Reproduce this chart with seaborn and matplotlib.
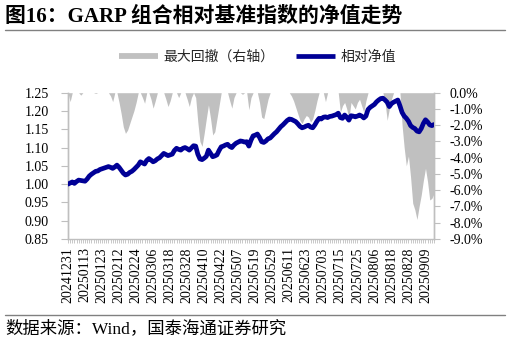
import numpy as np
import pandas as pd
import matplotlib
matplotlib.use("Agg")
import matplotlib.pyplot as plt
import seaborn as sns
from matplotlib.lines import Line2D
from matplotlib.ticker import FuncFormatter

# ---------------- data ----------------
start_date = "2024-12-31"
end_date = "2025-09-15"
holidays = ["2025-01-01", "2025-01-28", "2025-01-29", "2025-01-30", "2025-01-31",
            "2025-02-03", "2025-02-04", "2025-04-04", "2025-05-01", "2025-05-02",
            "2025-05-05", "2025-06-02"]

nav = [
    1.000, 1.003, 1.006, 1.002, 1.007, 1.011, 1.010, 1.009, 1.008, 1.014,
    1.022, 1.027, 1.031, 1.035, 1.036, 1.040, 1.042, 1.044, 1.046, 1.048,
    1.046, 1.043, 1.047, 1.052, 1.046, 1.038, 1.030, 1.025, 1.027, 1.032,
    1.035, 1.040, 1.046, 1.052, 1.061, 1.058, 1.055, 1.065, 1.070, 1.066,
    1.061, 1.064, 1.069, 1.072, 1.078, 1.084, 1.081, 1.078, 1.080, 1.082,
    1.092, 1.098, 1.095, 1.093, 1.098, 1.100, 1.097, 1.093, 1.099, 1.105,
    1.104, 1.082, 1.069, 1.067, 1.071, 1.076, 1.093, 1.084, 1.075, 1.077,
    1.080, 1.092, 1.102, 1.104, 1.107, 1.109, 1.103, 1.100, 1.107, 1.112,
    1.115, 1.118, 1.117, 1.115, 1.116, 1.104, 1.120, 1.132, 1.134, 1.137,
    1.128, 1.116, 1.114, 1.118, 1.124, 1.126, 1.132, 1.138, 1.143, 1.150,
    1.157, 1.162, 1.168, 1.174, 1.178, 1.177, 1.174, 1.171, 1.165, 1.158,
    1.154, 1.156, 1.159, 1.161, 1.156, 1.154, 1.162, 1.172, 1.180, 1.178,
    1.183, 1.184, 1.182, 1.185, 1.186, 1.188, 1.190, 1.194, 1.182, 1.180,
    1.189, 1.183, 1.175, 1.187, 1.186, 1.184, 1.186, 1.189, 1.186, 1.181,
    1.186, 1.204, 1.210, 1.214, 1.218, 1.225, 1.230, 1.234, 1.235, 1.230,
    1.224, 1.212, 1.220, 1.224, 1.227, 1.230, 1.214, 1.196, 1.186, 1.180,
    1.172, 1.160, 1.155, 1.152, 1.145, 1.143, 1.152, 1.166, 1.176, 1.170,
    1.162, 1.160, 1.163,
]

drawdown_pct = [
    0, -0.55, 0, 0, 0, 0, -0.15, 0, 0, 0,
    0, 0, 0, -0.05, 0, 0, 0, 0, 0, 0,
    -0.2, -0.55, 0, 0, -0.6, -1.3, -2.1, -2.5, -2.3, -1.9,
    -1.5, -1.1, -0.6, 0, 0, -0.3, -0.65, 0, 0, -0.4,
    -0.95, -0.5, 0, 0, 0, 0, -0.4, -0.85, -0.5, 0,
    0, 0, -0.3, 0, 0, 0, -0.4, -0.85, -0.3, 0,
    -0.3, -1.8, -3.0, -3.3, -2.5, -1.6, -0.75, -1.6, -2.6, -2.4,
    -1.6, -0.8, 0, 0, 0, 0, -0.5, -0.95, -0.3, 0,
    0, 0, -0.1, 0, 0, -1.05, -0.3, 0, 0, 0,
    -0.6, -1.5, -1.6, -1.0, -0.4, 0, 0, 0, 0, 0,
    0, 0, 0, 0, 0, -0.2, -0.5, -0.9, -1.3, -1.7,
    -1.9, -1.6, -1.4, -1.5, -1.8, -1.6, -1.1, -0.5, 0, 0,
    0, -0.55, 0, 0, 0, 0, 0, 0, -1.2, -0.8,
    -0.6, -1.0, -1.6, -0.6, -0.8, -1.0, -0.6, -0.4, -0.8, -1.2,
    -0.5, 0, 0, 0, 0, 0, 0, 0, 0, -0.6,
    -1.7, -1.0, -0.4, 0, 0, 0, 0, -2.0, -3.4, -4.5,
    -3.9, -5.2, -6.8, -7.2, -7.8, -7.0, -6.3, -5.4, -4.65, -5.5,
    -6.6, -6.5, -6.2,
]

title = "图16：GARP 组合相对基准指数的净值走势"
source = "数据来源：Wind，国泰海通证券研究"
label_dd = "最大回撤（右轴）"
label_nav = "相对净值"

left_ticks = [0.85, 0.90, 0.95, 1.00, 1.05, 1.10, 1.15, 1.20, 1.25]
right_ticks = [-9, -8, -7, -6, -5, -4, -3, -2, -1, 0]
label_step = 8

# ---------------- build frame ----------------
hol = set(pd.to_datetime(holidays))
dates = [d for d in pd.bdate_range(start_date, end_date) if d not in hol]
n = min(len(dates), len(nav), len(drawdown_pct))
df = pd.DataFrame({
    "idx": np.arange(n),
    "date": [d.strftime("%Y%m%d") for d in dates[:n]],
    "nav": nav[:n],
    "dd": drawdown_pct[:n],
})

# ---------------- style ----------------
sns.set_theme(style="white")
serif = ["Liberation Serif", "Noto Sans CJK SC", "DejaVu Sans"]
cjk = ["Noto Sans CJK SC", "Liberation Serif", "DejaVu Sans"]
plt.rcParams["font.family"] = serif
plt.rcParams["axes.unicode_minus"] = False

axis_grey = "#BFBFBF"
fill_grey = "#C0C0C0"
navy = "#000096"

fig = plt.figure(figsize=(5.10, 3.42), dpi=100)
ax = fig.add_axes([68 / 510, 1 - 239 / 342, (434 - 68) / 510, (239 - 92.7) / 342])
ax2 = ax.twinx()

# drawdown area on right-hand scale (primary axes, drawn below)
ax.fill_between(df["idx"], df["dd"], 0, color=fill_grey, linewidth=0, zorder=1)
ax.set_ylim(right_ticks[0], right_ticks[-1])
ax.set_yticks(right_ticks)
ax.yaxis.set_major_formatter(FuncFormatter(lambda v, p: f"{v:.1f}%"))
ax.set_xlim(0, n - 1)

# relative NAV line on left-hand scale (twin, drawn above)
sns.lineplot(data=df, x="idx", y="nav", ax=ax2, color=navy, linewidth=3.4,
             legend=False, zorder=3)
ax2.set_ylim(left_ticks[0], left_ticks[-1])
ax2.set_yticks(left_ticks)
ax2.yaxis.set_major_formatter(FuncFormatter(lambda v, p: f"{v:.2f}"))
ax2.set_xlabel("")
ax2.set_ylabel("")
ax2.set_xlim(0, n - 1)

# put scales on their sides (after twinx)
ax.yaxis.tick_right()
ax.yaxis.set_label_position("right")
ax2.yaxis.tick_left()
ax2.yaxis.set_label_position("left")

# x ticks
major = list(range(0, n, label_step))
ax.set_xticks(major)
ax.set_xticklabels(df["date"].iloc[major], rotation=90)
ax.set_xticks(range(n), minor=True)
ax.tick_params(axis="x", which="both", bottom=True, length=3, width=0.6,
               color=axis_grey, labelsize=10, pad=3, labelcolor="black")
ax.tick_params(axis="y", which="major", right=True, left=False, labelright=True,
               labelleft=False, length=4, width=0.8,
               color=axis_grey, labelsize=10, pad=7, labelcolor="black")
ax2.tick_params(axis="y", which="major", left=True, right=False, labelleft=True,
                labelright=False, length=5, width=0.8,
                color=axis_grey, labelsize=10, pad=9, labelcolor="black")
ax2.tick_params(axis="x", which="both", bottom=False, top=False, labelbottom=False)

for a in (ax, ax2):
    a.spines["top"].set_visible(False)
    for s in ("left", "right", "bottom"):
        a.spines[s].set_color(axis_grey)
        a.spines[s].set_linewidth(1.0)
    a.grid(False)
ax2.spines["bottom"].set_visible(False)

# legend
handles = [Line2D([0], [0], color=fill_grey, linewidth=4.2, solid_capstyle="butt"),
           Line2D([0], [0], color=navy, linewidth=3.4, solid_capstyle="butt")]
fig.legend(handles, [label_dd, label_nav], loc="center",
           bbox_to_anchor=(0.505, 1 - 57 / 342), ncol=2, frameon=False,
           prop={"family": cjk, "size": 10}, handlelength=2.8,
           handletextpad=0.4, columnspacing=1.5)

# title, rules, source
fig.text(5 / 510, 1 - 17 / 342, title, fontsize=15, fontweight="bold",
         family=serif, va="center", ha="left", color="black")
fig.add_artist(Line2D([5 / 510, 505 / 510], [1 - 29.5 / 342] * 2,
                      color="#808080", linewidth=1.0))
fig.add_artist(Line2D([5 / 510, 505 / 510], [1 - 315 / 342] * 2,
                      color="#808080", linewidth=1.0))
fig.text(5 / 510, 1 - 329 / 342, source, fontsize=12.5, family=serif,
         va="center", ha="left", color="black")

fig.savefig("out.png", dpi=100)
